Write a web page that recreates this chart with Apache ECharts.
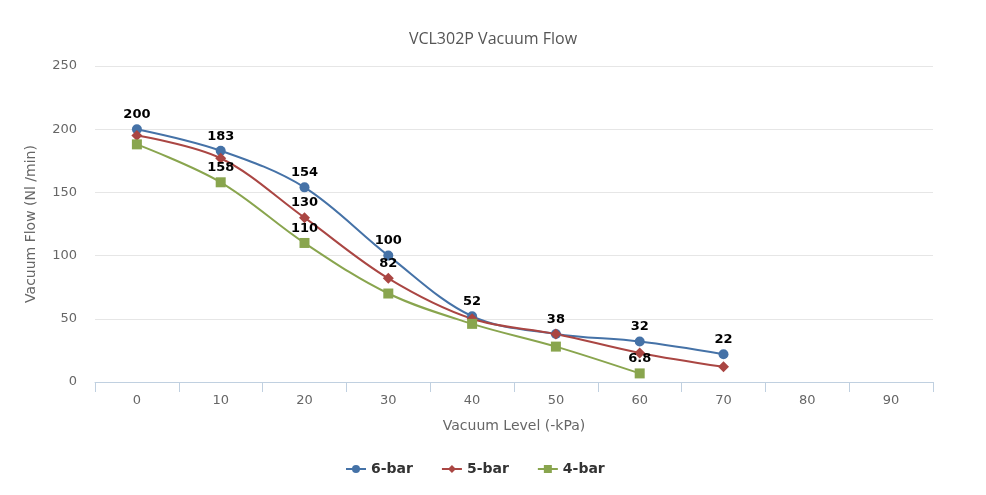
<!DOCTYPE html>
<html><head><meta charset="utf-8">
<script src="https://cdn.jsdelivr.net/npm/echarts@6/dist/echarts.min.js"></script>
<style>html,body{margin:0;padding:0;background:#fff}#c{width:986px;height:495px}</style>
</head><body><div id="c"></div>
<script>
const categories = ['0','10','20','30','40','50','60','70','80','90'];
const bar6 = [200,183,154,100,52,38,32,22];
const bar5 = [195,177,130,82,50,38,23,12];
const bar4 = [188,158,110,70,46,28,6.8];
const labeled6 = [0,1,2,3,4,5,6,7];
const labeled5 = [2,3];
const labeled4 = [1,2,6];
const seriesNames = ['6-bar','5-bar','4-bar'];
const colors = ['#4572A7','#AA4643','#89A54E'];
const symbols = ['circle','diamond','rect'];
const symSizes = [10,11,10];

function build(vals, labeled){
  return vals.map((v,i)=>({value:v,label:{show:labeled.includes(i)}}));
}
const all=[[bar6,labeled6],[bar5,labeled5],[bar4,labeled4]];
const font='"DejaVu Sans", Verdana, sans-serif';
const chart=echarts.init(document.getElementById('c'));
chart.setOption({
  animation:false,
  title:{text:'VCL302P Vacuum Flow',left:'center',top:26,textStyle:{color:'#555',fontSize:16,fontWeight:'normal',fontFamily:'"Open Sans", sans-serif'}},
  grid:{left:95,right:53,top:66,bottom:113},
  legend:{left:340,bottom:14,itemGap:28,itemWidth:20,itemHeight:10,data:seriesNames,textStyle:{fontWeight:'bold',fontSize:14,color:'#333',fontFamily:font}},
  xAxis:{type:'category',data:categories,boundaryGap:true,
    axisLine:{show:true,lineStyle:{color:'#C0D0E0'}},
    axisTick:{show:true,length:10,lineStyle:{color:'#C0D0E0'}},
    axisLabel:{color:'#666',fontSize:13,margin:12,fontFamily:font},
    name:'Vacuum Level (-kPa)',nameLocation:'middle',nameGap:37,
    nameTextStyle:{color:'#666',fontSize:14,fontFamily:font}},
  yAxis:{type:'value',min:0,max:250,interval:50,
    axisLine:{show:false},axisTick:{show:false},
    splitLine:{lineStyle:{color:'#E6E6E6'}},
    axisLabel:{color:'#666',fontSize:13,margin:18,fontFamily:font},
    name:'Vacuum Flow (Nl /min)',nameLocation:'middle',nameGap:57,
    nameTextStyle:{color:'#666',fontSize:14,fontFamily:font}},
  series:all.map((a,k)=>({
    name:seriesNames[k],type:'line',smooth:0.35,
    data:build(a[0],a[1]),
    symbol:symbols[k],symbolSize:symSizes[k],
    itemStyle:{color:colors[k]},lineStyle:{width:2,color:colors[k]},
    label:{position:'top',distance:3,color:'#000',fontWeight:'bold',fontSize:13,fontFamily:font}
  }))
});
</script></body></html>
